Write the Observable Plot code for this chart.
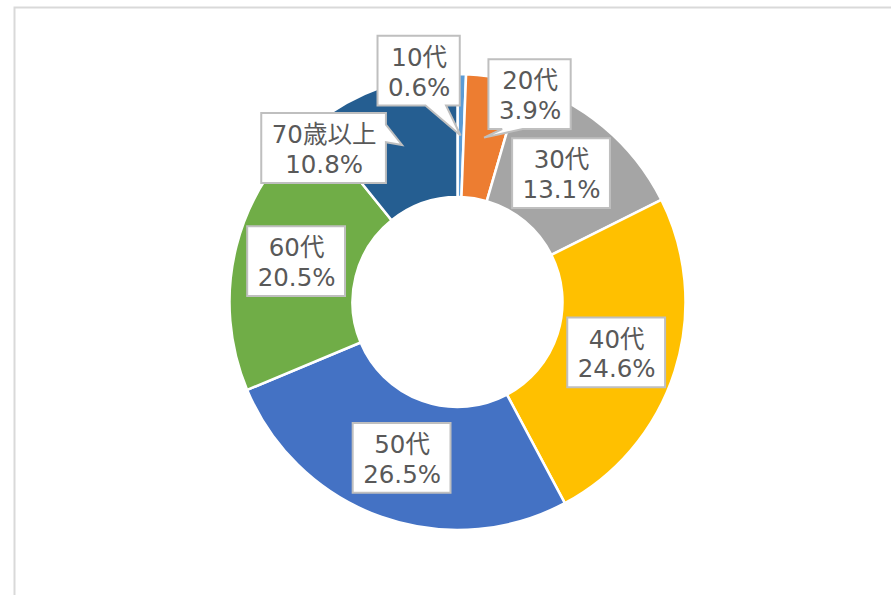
<!DOCTYPE html>
<html><head><meta charset="utf-8">
<script src="https://cdn.jsdelivr.net/npm/d3@7"></script>
<script src="https://cdn.jsdelivr.net/npm/@observablehq/plot@0.6"></script>
<style>body{margin:0;background:#fff}</style>
</head><body><div id="chart"></div>
<script>
// ---- data ----
const categories = ["10代", "20代", "30代", "40代", "50代", "60代", "70歳以上"];
const values = [0.6, 3.9, 13.1, 24.6, 26.5, 20.5, 10.8];
const colors = ["#5B9BD5", "#ED7D31", "#A5A5A5", "#FFC000", "#4472C4", "#70AD47", "#255E91"];

// ---- label layout (offset of each callout from its slice centroid, px) ----
const labelDx = [-42, 45.5, -3, 0, 0, 0, -78.5];
const labelDy = [-65, -43.5, -1, 0, -1, 0, 3];
const labelPointer = [true, true, false, false, false, false, true];

const W = 891, H = 595, CX = 457.5, CY = 302, R_OUT = 228, R_IN = 105;
const FONT_SIZE = 24.5, LINE_H = 1.22;
const FONT = "'DejaVu Sans', 'Noto Sans CJK JP', sans-serif";
const TEXT_COLOR = "#595959";

const pie = d3.pie().sort(null).value((d, i) => values[i])(categories);
const slices = pie.map((a, i) => ({category: categories[i], value: values[i], startAngle: a.startAngle, endAngle: a.endAngle, padAngle: 0}));
const midR = (R_OUT + R_IN) / 2;
const ctx = document.createElement("canvas").getContext("2d");
ctx.font = `${FONT_SIZE}px ${FONT}`;
const labels = slices.map((s, i) => {
  const a = (s.startAngle + s.endAngle) / 2;
  const tx = CX + midR * Math.sin(a), ty = CY - midR * Math.cos(a);
  const lines = [s.category, s.value.toFixed(1) + "%"];
  const tw = Math.max(...lines.map(l => ctx.measureText(l).width));
  return {text: lines.join("\n"), tipX: tx, tipY: ty, x: tx + labelDx[i], y: ty + labelDy[i],
          w: tw + 20, h: FONT_SIZE * LINE_H * 2 + 10, pointer: labelPointer[i]};
});

function callout(cx, cy, w, h, px, py, pointer) {
  const l = cx - w / 2, r = cx + w / 2, t = cy - h / 2, b = cy + h / 2;
  if (!pointer || (px >= l && px <= r && py >= t && py <= b)) return `M${l},${t}H${r}V${b}H${l}Z`;
  const dx = px - cx, dy = py - cy;
  const x1 = l + w * (dx > 0 ? 7 : 2) / 12, x2 = l + w * (dx > 0 ? 10 : 5) / 12;
  const y1 = t + h * (dy > 0 ? 7 : 2) / 12, y2 = t + h * (dy > 0 ? 10 : 5) / 12;
  if (Math.abs(dy / h) > Math.abs(dx / w)) {
    if (dy < 0) return `M${l},${t}H${x1}L${px},${py}L${x2},${t}H${r}V${b}H${l}Z`;
    return `M${l},${t}H${r}V${b}H${x2}L${px},${py}L${x1},${b}H${l}Z`;
  } else {
    if (dx < 0) return `M${l},${t}H${r}V${b}H${l}V${y2}L${px},${py}L${l},${y1}Z`;
    return `M${l},${t}H${r}V${y1}L${px},${py}L${r},${y2}V${b}H${l}Z`;
  }
}

const chart = Plot.plot({
  width: W, height: H, margin: 0,
  x: {domain: [0, W], range: [0, W], axis: null},
  y: {domain: [0, H], range: [0, H], axis: null},
  color: {domain: categories, range: colors},
  marks: [
    Plot.frame({stroke: "#d9d9d9", strokeWidth: 2, insetLeft: 14, insetTop: 7, insetRight: -10, insetBottom: -10}),
    Plot.dot(slices, {
      x: () => CX, y: () => CY, fill: "category",
      render(index, scales, vals) {
        const g = d3.create("svg:g");
        const k = Math.abs(scales.x(1) - scales.x(0));
        const arc = d3.arc().innerRadius(R_IN * k).outerRadius(R_OUT * k);
        for (const i of index) {
          g.append("path")
            .attr("transform", `translate(${vals.x[i]},${vals.y[i]})`)
            .attr("d", arc(slices[i]))
            .attr("fill", vals.fill[i])
            .attr("stroke", "#ffffff").attr("stroke-width", 2.5).attr("stroke-linejoin", "round");
        }
        return g.node();
      }
    }),
    Plot.dot(labels, {
      x: "x", y: "y",
      render(index, scales, vals) {
        const g = d3.create("svg:g");
        for (const i of index) {
          const d = labels[i];
          g.append("path")
            .attr("d", callout(vals.x[i], vals.y[i], d.w, d.h, scales.x(d.tipX), scales.y(d.tipY), d.pointer))
            .attr("fill", "#ffffff").attr("stroke", "#bfbfbf").attr("stroke-width", 2);
        }
        return g.node();
      }
    }),
    Plot.text(labels, {x: "x", y: "y", text: "text", fontSize: FONT_SIZE, lineHeight: LINE_H,
                       fill: TEXT_COLOR, fontFamily: FONT})
  ]
});
document.getElementById("chart").appendChild(chart);
</script>
</body></html>
